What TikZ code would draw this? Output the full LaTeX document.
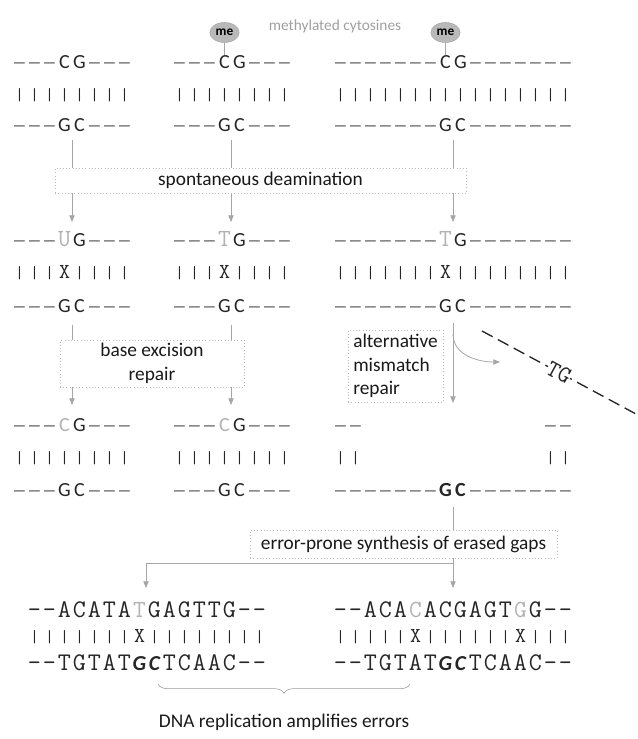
\documentclass[tikz,border=0pt]{standalone}
\usepackage{fontspec}
\setmainfont{Carlito}
\usetikzlibrary{arrows.meta,positioning,shapes.geometric,decorations.pathreplacing}

% special letters inside a strand
\newcommand\ds{\raisebox{.6pt}{\fontsize{11}{11}\selectfont\textemdash}}
\newcommand\gm[1]{{\ttfamily\fontsize{18.5}{18}\selectfont\color{gray!60}#1}}
\newcommand\gs[1]{{\color{gray!60}#1}}
\newcommand\bd[1]{{\bfseries #1}}
\newcommand\bi[1]{{\rmfamily\fontsize{16}{16}\selectfont\bfseries\itshape #1}}
\newcommand\mx{{\fontsize{16}{16}\selectfont X}}
% one strand, one node per letter: name, x of first letter, baseline, style, letters
\newcommand\strand[5]{\foreach \c [count=\i from 0] in {#5}
  \node[#4] (#1-\i) at ({#2+15*\i},#3) {\c};}

\tikzset{
  letter/.style={inner sep=0, anchor=base, text=black!85},
  sans/.style={letter, font=\fontsize{15}{15}\selectfont},
  mono/.style={letter, font=\ttfamily\fontsize{19}{19}\selectfont},
  pair/.style={letter, font=\ttfamily\fontsize{13}{13}\selectfont},
  procbox/.style={draw=gray!55, dotted, fill=white, inner sep=2pt,
    font=\fontsize{14.5}{17.5}\selectfont, text=black!90},
  flow/.style={draw=gray!70, line width=.6pt, -{Triangle[length=5pt,width=4pt]}},
  meball/.style={ellipse, fill=gray!55, draw=gray!70, inner sep=0,
    minimum width=22pt, minimum height=15pt, font=\bfseries\fontsize{10}{10}\selectfont},
}

\begin{document}
\begin{tikzpicture}[x=0.75pt,y=-0.75pt]
\useasboundingbox (0,0) rectangle (638,739);

%% first row: the intact pairs
\strand{t1a}{19.5}{68}{sans}{\ds,\ds,\ds,C,G,\ds,\ds,\ds}
\strand{t1b}{179.5}{68}{sans}{\ds,\ds,\ds,C,G,\ds,\ds,\ds}
\strand{t1c}{340.5}{68}{sans}{\ds,\ds,\ds,\ds,\ds,\ds,\ds,C,G,\ds,\ds,\ds,\ds,\ds,\ds,\ds}
\strand{p1a}{19.5}{100}{pair}{|,|,|,|,|,|,|,|}
\strand{p1b}{179.5}{100}{pair}{|,|,|,|,|,|,|,|}
\strand{p1c}{340.5}{100}{pair}{|,|,|,|,|,|,|,|,|,|,|,|,|,|,|,|}
\strand{b1a}{19.5}{131}{sans}{\ds,\ds,\ds,G,C,\ds,\ds,\ds}
\strand{b1b}{179.5}{131}{sans}{\ds,\ds,\ds,G,C,\ds,\ds,\ds}
\strand{b1c}{340.5}{131}{sans}{\ds,\ds,\ds,\ds,\ds,\ds,\ds,G,C,\ds,\ds,\ds,\ds,\ds,\ds,\ds}

% methyl groups
\node[meball, above=9pt of t1b-3] (me1) {me};
\node[meball, above=9pt of t1c-7] (me2) {me};
\draw[gray!70] (me1) -- (t1b-3);
\draw[gray!70] (me2) -- (t1c-7);
\node[font=\fontsize{11.5}{14}\selectfont, text=gray!75] (methlab) at (335,26) {methylated cytosines};

%% second row: after deamination
\strand{t2a}{19.5}{246.5}{sans}{\ds,\ds,\ds,\gm{U},G,\ds,\ds,\ds}
\strand{t2b}{179.5}{246.5}{sans}{\ds,\ds,\ds,\gm{T},G,\ds,\ds,\ds}
\strand{t2c}{340.5}{246.5}{sans}{\ds,\ds,\ds,\ds,\ds,\ds,\ds,\gm{T},G,\ds,\ds,\ds,\ds,\ds,\ds,\ds}
\strand{p2a}{19.5}{278}{pair}{|,|,|,\mx,|,|,|,|}
\strand{p2b}{179.5}{278}{pair}{|,|,|,\mx,|,|,|,|}
\strand{p2c}{340.5}{278}{pair}{|,|,|,|,|,|,|,\mx,|,|,|,|,|,|,|,|}
\strand{b2a}{19.5}{312.5}{sans}{\ds,\ds,\ds,G,C,\ds,\ds,\ds}
\strand{b2b}{179.5}{312.5}{sans}{\ds,\ds,\ds,G,C,\ds,\ds,\ds}
\strand{b2c}{340.5}{312.5}{sans}{\ds,\ds,\ds,\ds,\ds,\ds,\ds,G,C,\ds,\ds,\ds,\ds,\ds,\ds,\ds}

%% third row: after repair
\strand{t3a}{19.5}{431.5}{sans}{\ds,\ds,\ds,\gs{C},G,\ds,\ds,\ds}
\strand{t3b}{179.5}{431.5}{sans}{\ds,\ds,\ds,\gs{C},G,\ds,\ds,\ds}
\strand{t3c}{340.5}{431.5}{sans}{\ds,\ds}
\strand{t3d}{550.5}{431.5}{sans}{\ds,\ds}
\strand{p3a}{19.5}{463}{pair}{|,|,|,|,|,|,|,|}
\strand{p3b}{179.5}{463}{pair}{|,|,|,|,|,|,|,|}
\strand{p3c}{340.5}{463}{pair}{|,|}
\strand{p3d}{550.5}{463}{pair}{|,|}
\strand{b3a}{19.5}{496.5}{sans}{\ds,\ds,\ds,G,C,\ds,\ds,\ds}
\strand{b3b}{179.5}{496.5}{sans}{\ds,\ds,\ds,G,C,\ds,\ds,\ds}
\strand{b3c}{340.5}{496.5}{sans}{\ds,\ds,\ds,\ds,\ds,\ds,\ds,\bd{G},\bd{C},\ds,\ds,\ds,\ds,\ds,\ds,\ds}

%% fourth row: refilled gaps
\strand{t4a}{34.5}{617}{mono}{-,-,A,C,A,T,A,\gm{T},G,A,G,T,T,G,-,-}
\strand{t4b}{340.5}{617}{mono}{-,-,A,C,A,\gm{C},A,C,G,A,G,T,\gm{G},G,-,-}
\strand{p4a}{34.5}{642}{pair}{|,|,|,|,|,|,|,\mx,|,|,|,|,|,|,|,|}
\strand{p4b}{340.5}{642}{pair}{|,|,|,|,|,\mx,|,|,|,|,|,|,\mx,|,|,|}
\strand{b4a}{34.5}{670}{mono}{-,-,T,G,T,A,T,\bi{G},\bi{C},T,C,A,A,C,-,-}
\strand{b4b}{340.5}{670}{mono}{-,-,T,G,T,A,T,\bi{G},\bi{C},T,C,A,A,C,-,-}

%% arrow ends
\coordinate (s1a) at (72,140);  \coordinate (e1a) at (72,222);
\coordinate (s1b) at (231,140); \coordinate (e1b) at (231,222);
\coordinate (s1c) at (453,140); \coordinate (e1c) at (453,222);
\coordinate (s2a) at (72,325);  \coordinate (e2a) at (72,405);
\coordinate (s2b) at (231,325); \coordinate (e2b) at (231,405);
\coordinate (s2c) at (453,323); \coordinate (e2c) at (453,403);
\coordinate (fork1) at (453,334); \coordinate (lost) at (500,362);
\coordinate (s3c) at (453,507); \coordinate (e3c) at (453,588);
\coordinate (fork2) at (453,563); \coordinate (e3a) at (146,588);

\draw[flow] (s1a) -- (e1a);
\draw[flow] (s1b) -- (e1b);
\draw[flow] (s1c) -- (e1c);
\draw[flow] (s2a) -- (e2a);
\draw[flow] (s2b) -- (e2b);
\draw[flow] (s2c) -- (e2c);
\draw[flow] (fork1) to[out=-90,in=180] (lost);
\draw[flow] (s3c) -- (e3c);
\draw[flow] (fork2) -| (e3a);

%% process boxes drawn over the arrows
\node[procbox, minimum width=308pt, minimum height=19pt] (deam) at (260.5,180.5) {spontaneous deamination};
\node[procbox, minimum width=138pt, minimum height=35pt, align=center] (ber) at (152,363.5) {base excision\\repair};
\node[procbox, minimum width=71pt, minimum height=54pt, align=left] (amr) at (395.5,366) {alternative\\mismatch\\repair};
\node[procbox, minimum width=230pt, minimum height=21pt] (eps) at (403.5,544) {error-prone synthesis of erased gaps};

%% the removed stretch
\coordinate (cut1) at (482,331);
\coordinate (cut2) at (636,414);
\draw[black!85, line width=1pt, dash pattern=on 9pt off 4.5pt] (cut1) -- node[sloped, fill=white, inner sep=0pt, font=\ttfamily\fontsize{18}{18}\selectfont] (cutTG) {TG} (cut2);

%% replication brace
\coordinate (brl) at (158,684);
\coordinate (brr) at (410,684);
\draw[gray!80, decorate, decoration={brace, mirror, amplitude=7pt}] (brl) -- (brr);
\node[font=\fontsize{14.5}{17.5}\selectfont, text=black!90] (amp) at (284,722) {DNA replication amplifies errors};
\end{tikzpicture}
\end{document}
